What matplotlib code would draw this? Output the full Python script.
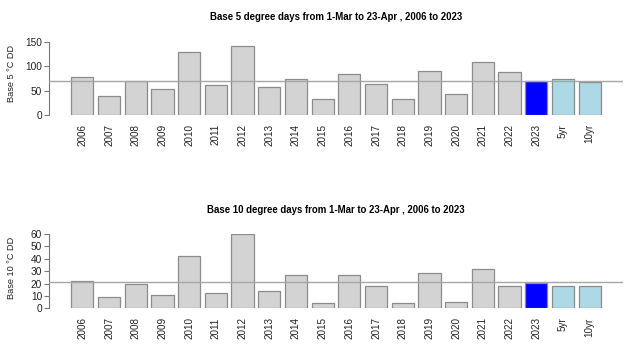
import numpy as np
import matplotlib
matplotlib.use("Agg")
import matplotlib.pyplot as plt

plt.rcParams['font.family'] = ['Liberation Sans', 'DejaVu Sans']

labels = ["2006", "2007", "2008", "2009", "2010", "2011", "2012", "2013", "2014",
          "2015", "2016", "2017", "2018", "2019", "2020", "2021", "2022", "2023",
          "5yr", "10yr"]
dd5 = [79, 39, 69, 54, 130.5, 62.5, 141.5, 57.5, 75, 33, 84.5, 64.5, 32, 90,
       43.5, 108, 88, 69.5, 73, 68]
dd10 = [22, 8.8, 19.3, 10.4, 42.6, 12, 60, 14.2, 26.5, 4, 26.5, 18.2, 4.3, 28.1,
        4.8, 32.1, 17.7, 20.4, 17.7, 17.7]
ref5 = 70
ref10 = 21

colors = ["lightgray"] * 17 + ["blue", "lightblue", "lightblue"]

fig = plt.figure(figsize=(6.4, 3.54), dpi=100)

def panel(rect, values, ref, ymax, step, title, ylabel, title_y, ylab_y):
    ax = fig.add_axes(rect)
    x = np.arange(len(values)) * 1.2 + 0.7
    ax.bar(x, values, width=1, color=colors, edgecolor="#8c8c8c", linewidth=0.9, zorder=2)
    ax.axhline(ref, color="#a6a6a6", linewidth=1, zorder=3)
    ax.set_xlim(-0.8, 25.0)
    ax.set_ylim(0, ymax)
    for s in ["top", "right", "bottom"]:
        ax.spines[s].set_visible(False)
    ax.spines["left"].set_bounds(0, ymax)
    ax.spines["left"].set_color("#777777")
    ax.spines["left"].set_linewidth(0.8)
    ax.set_yticks(np.arange(0, ymax + 1, step))
    ax.tick_params(axis="y", length=3.5, width=0.8, color="#777777", pad=1.5,
                   labelsize=7.3, labelcolor="#222222")
    ax.set_xticks(x)
    ax.set_xticklabels(labels, rotation=90, fontsize=7.1, color="#222222")
    ax.tick_params(axis="x", length=0, pad=6.5)
    fig.text(336 / 640, title_y, title, ha="center", va="center",
             fontsize=6.9, fontweight="bold")
    fig.text(11.7 / 640, ylab_y, ylabel, ha="center", va="center",
             rotation=90, fontsize=6.6, color="#222222")
    return ax

panel([49 / 640, 0.6751, 574 / 640, 0.2062], dd5, ref5, 150, 50,
      "Base 5 degree days from 1-Mar to 23-Apr , 2006 to 2023",
      "Base 5 \u00b0C DD", 0.953, 0.793)
panel([49 / 640, 0.1291, 574 / 640, 0.2099], dd10, ref10, 60, 10,
      "Base 10 degree days from 1-Mar to 23-Apr , 2006 to 2023",
      "Base 10 \u00b0C DD", 0.406, 0.243)

fig.savefig("out.png", dpi=100)
